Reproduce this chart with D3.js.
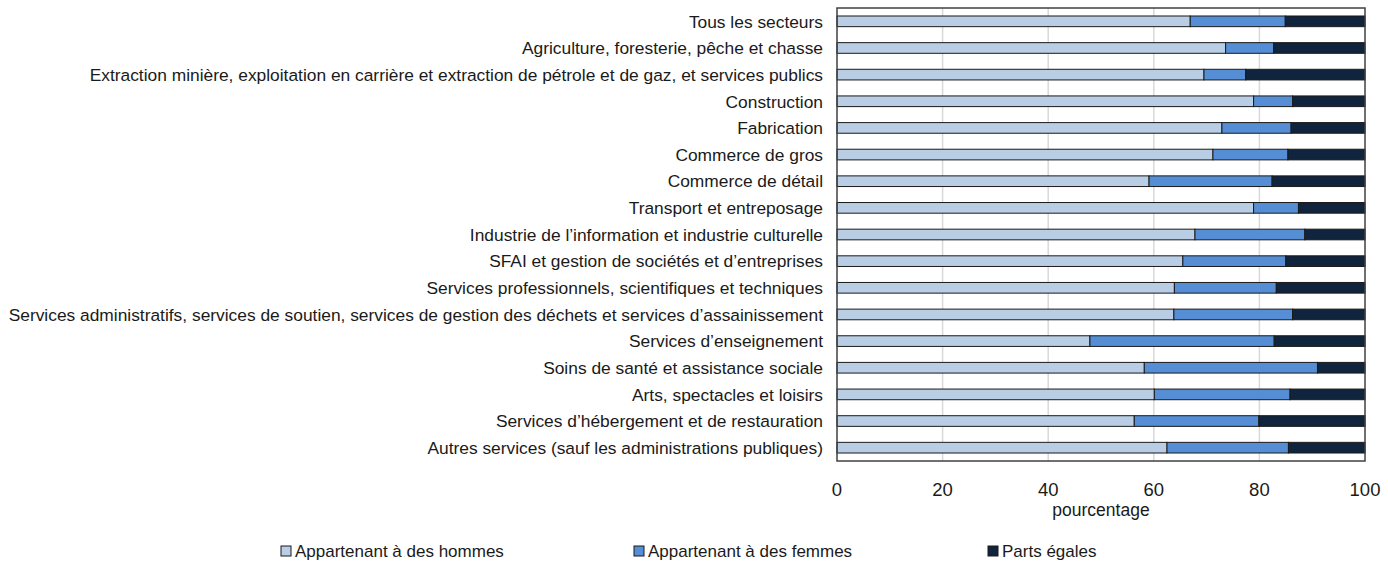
<!DOCTYPE html>
<html>
<head>
<meta charset="utf-8">
<script src="https://cdn.jsdelivr.net/npm/d3@7"></script>
<style>
  body { margin: 0; background: white; }
  svg text { font-family: "Liberation Sans", Arial, sans-serif; fill: #1a1a1a; }
</style>
</head>
<body>
<div id="chart"></div>
<script>
// Categories (top to bottom)
const sectors = [
  "Tous les secteurs",
  "Agriculture, foresterie, pêche et chasse",
  "Extraction minière, exploitation en carrière et extraction de pétrole et de gaz, et services publics",
  "Construction",
  "Fabrication",
  "Commerce de gros",
  "Commerce de détail",
  "Transport et entreposage",
  "Industrie de l\u2019information et industrie culturelle",
  "SFAI et gestion de sociétés et d\u2019entreprises",
  "Services professionnels, scientifiques et techniques",
  "Services administratifs, services de soutien, services de gestion des déchets et services d\u2019assainissement",
  "Services d\u2019enseignement",
  "Soins de santé et assistance sociale",
  "Arts, spectacles et loisirs",
  "Services d\u2019hébergement et de restauration",
  "Autres services (sauf les administrations publiques)"
];

// Series values (percentage)
const hommes  = [66.9, 73.6, 69.5, 78.9, 72.9, 71.2, 59.1, 78.9, 67.8, 65.5, 63.9, 63.8, 47.9, 58.2, 60.1, 56.3, 62.5];
const femmes  = [18.0,  9.1,  7.9,  7.4, 13.1, 14.2, 23.3,  8.5, 20.8, 19.5, 19.3, 22.5, 34.9, 32.8, 25.7, 23.6, 23.0];
const egales  = hommes.map((h, i) => 100 - h - femmes[i]);

const seriesNames = ["Appartenant à des hommes", "Appartenant à des femmes", "Parts égales"];
const colors = ["#b9cde5", "#558ed5", "#10243e"];
const ticks = [0, 20, 40, 60, 80, 100];

const width = 1388, height = 563;
const margin = { top: 8, left: 837, right: 23 };
const plotBottom = 461;

const svg = d3.select('#chart').append('svg')
  .attr('width', width)
  .attr('height', height);

const x = d3.scaleLinear().domain([0, 100]).range([margin.left, width - margin.right]);
const y = d3.scaleBand().domain(sectors).range([margin.top, plotBottom]).paddingInner(0.6).paddingOuter(0.3);

// gridlines
svg.append('g')
  .selectAll('line')
  .data(ticks.slice(1, -1))
  .enter().append('line')
  .attr('x1', d => x(d)).attr('x2', d => x(d))
  .attr('y1', margin.top).attr('y2', plotBottom)
  .attr('stroke', '#d9d9d9')
  .attr('stroke-width', 1.5);

// stacked data
const rows = sectors.map((s, i) => ({ sector: s, h: hommes[i], f: femmes[i], e: egales[i] }));
const stack = d3.stack().keys(['h', 'f', 'e'])(rows);

svg.append('g')
  .selectAll('g')
  .data(stack)
  .enter().append('g')
  .attr('fill', (d, i) => colors[i])
  .selectAll('rect')
  .data(d => d)
  .enter().append('rect')
  .attr('x', d => x(d[0]))
  .attr('y', d => y(d.data.sector))
  .attr('width', d => x(d[1]) - x(d[0]))
  .attr('height', y.bandwidth())
  .attr('stroke', '#1a1a1a')
  .attr('stroke-width', 1);

// plot border
svg.append('rect')
  .attr('x', margin.left).attr('y', margin.top)
  .attr('width', x(100) - x(0)).attr('height', plotBottom - margin.top)
  .attr('fill', 'none')
  .attr('stroke', '#404040')
  .attr('stroke-width', 1.5);

// category labels, sized so the longest one fits like the original
const labels = svg.append('g')
  .selectAll('text')
  .data(sectors)
  .enter().append('text')
  .attr('x', margin.left - 14)
  .attr('y', d => y(d) + y.bandwidth() / 2)
  .attr('dy', '0.36em')
  .attr('text-anchor', 'end')
  .style('font-size', '17px')
  .text(d => d);

let longest = 0;
labels.each(function() { longest = Math.max(longest, this.getComputedTextLength()); });
const labelSize = 17 * 815 / longest;
labels.style('font-size', labelSize + 'px');

// x tick labels
svg.append('g')
  .selectAll('text')
  .data(ticks)
  .enter().append('text')
  .attr('x', d => x(d))
  .attr('y', 496)
  .attr('text-anchor', 'middle')
  .style('font-size', '18.5px')
  .text(d => d);

svg.append('text')
  .attr('x', (x(0) + x(100)) / 2)
  .attr('y', 516)
  .attr('text-anchor', 'middle')
  .style('font-size', '17.5px')
  .text('pourcentage');

// legend
const legendX = [281, 634, 988];
const legend = svg.append('g')
  .selectAll('g')
  .data(seriesNames)
  .enter().append('g')
  .attr('transform', (d, i) => `translate(${legendX[i]}, 557)`);

legend.append('rect')
  .attr('x', 0).attr('y', -11)
  .attr('width', 10).attr('height', 10)
  .attr('fill', (d, i) => colors[i])
  .attr('stroke', '#1a1a1a')
  .attr('stroke-width', 1);

legend.append('text')
  .attr('x', 14)
  .attr('y', 0)
  .style('font-size', '17px')
  .text(d => d);
</script>
</body>
</html>
